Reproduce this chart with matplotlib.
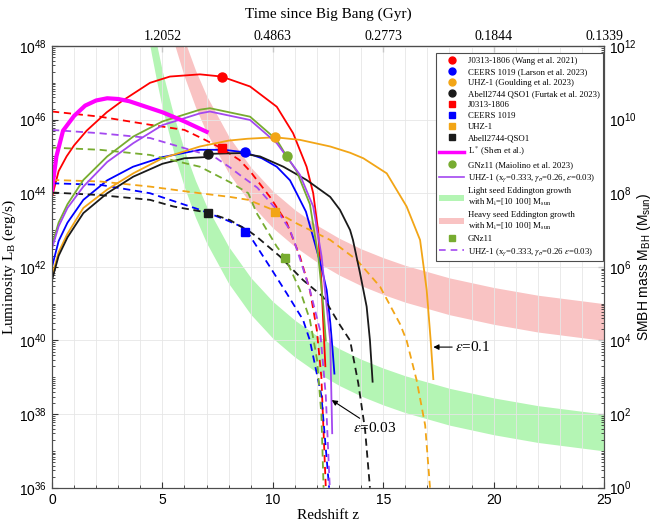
import numpy as np
import matplotlib.pyplot as plt
from matplotlib.lines import Line2D
from matplotlib.patches import Patch
from matplotlib.ticker import FixedLocator, LogLocator, NullFormatter, FuncFormatter, MultipleLocator

plt.rcParams['font.family'] = 'Liberation Serif'
plt.rcParams['mathtext.fontset'] = 'stix'

# curvas: redshift z e log10(L_B)
z_red = [0, 0.3, 0.66, 1.0, 1.57, 2.48, 3.16, 4.44, 5.34, 6.7, 7.68, 8.97, 10.18, 10.92, 11.53, 11.83, 12.05, 12.2, 12.3, 12.38]
L_red = [43.9, 44.6, 45.0, 45.3, 45.7, 46.2, 46.5, 47.0, 47.17, 47.23, 47.17, 46.9, 46.35, 45.63, 44.72, 44.0, 43.0, 41.6, 40.3, 39.3]
z_red_d = [0, 2.17, 4.44, 6.0, 6.93, 7.68, 8.5, 8.97, 9.87, 10.63, 11.23, 11.68, 11.99, 12.2, 12.4]
L_red_d = [46.22, 46.08, 45.86, 45.72, 45.45, 45.22, 44.9, 44.6, 43.9, 43.2, 42.28, 41.37, 40.3, 39.0, 36.0]

z_blue = [0, 0.3, 0.7, 1.42, 2.5, 3.67, 5.0, 6.7, 7.8, 8.74, 9.5, 10.18, 10.78, 11.08, 11.5, 11.83, 12.2, 12.44, 12.6, 12.7, 12.79]
L_blue = [42.0, 42.7, 43.2, 43.82, 44.35, 44.72, 44.98, 45.18, 45.18, 45.11, 44.95, 44.72, 44.35, 44.0, 43.5, 42.8, 42.0, 41.37, 40.5, 39.8, 39.1]
z_blue_d = [0, 2.17, 4.44, 6.7, 7.9, 8.74, 9.87, 10.63, 11.37, 11.68, 12.2, 12.55]
L_blue_d = [44.27, 44.23, 44.0, 43.55, 43.27, 43.05, 42.0, 41.28, 40.56, 40.0, 38.5, 36.0]

z_black = [0, 0.3, 0.7, 1.42, 2.5, 3.68, 5.0, 6.0, 6.9, 7.0, 7.08, 8.5, 9.42, 10.48, 11.53, 12.6, 13.04, 13.5, 13.63, 13.95, 14.25, 14.4, 14.52]
L_black = [41.64, 42.3, 42.8, 43.46, 44.0, 44.45, 44.8, 44.95, 44.98, 45.05, 45.07, 45.09, 45.0, 44.72, 44.36, 43.9, 43.55, 43.0, 42.73, 41.83, 40.92, 40.0, 38.88]
z_black_d = [0, 2.17, 4.44, 5.5, 7.08, 8.06, 8.97, 9.27, 10.33, 11.37, 12.27, 13.04, 13.5, 13.87, 14.18, 14.4]
L_black_d = [44.02, 43.95, 43.82, 43.64, 43.47, 43.27, 42.95, 42.82, 42.28, 41.64, 41.19, 40.42, 40.0, 38.84, 37.57, 36.0]

z_orange = [0, 0.3, 0.7, 1.42, 2.5, 3.68, 5.0, 6.7, 8.0, 8.85, 10.1, 11.23, 12.6, 13.5, 14.1, 15.16, 16.06, 16.67, 16.97, 17.15, 17.27]
L_orange = [41.75, 42.4, 42.9, 43.6, 44.1, 44.54, 44.95, 45.27, 45.43, 45.48, 45.52, 45.45, 45.27, 45.1, 44.95, 44.54, 43.64, 42.73, 41.37, 40.0, 38.95]
z_orange_d = [0, 2.17, 4.44, 6.7, 8.06, 8.89, 10.0, 11.08, 12.6, 13.8, 14.86, 15.76, 16.06, 16.51, 16.9, 17.12]
L_orange_d = [44.36, 44.32, 44.18, 44.0, 43.9, 43.82, 43.55, 43.18, 42.73, 42.19, 41.46, 40.45, 40.0, 38.93, 37.7, 36.0]

z_green = [0, 0.3, 0.7, 1.42, 2.5, 3.68, 5.0, 6.7, 7.15, 8.97, 10.18, 10.63, 11.08, 11.68, 12.06, 12.29, 12.4]
L_green = [42.6, 43.2, 43.7, 44.36, 45.0, 45.54, 45.95, 46.27, 46.31, 46.08, 45.45, 45.0, 44.6, 43.7, 42.28, 40.92, 40.0]
z_green_d = [0, 2.17, 4.44, 6.7, 8.06, 8.89, 9.27, 10.18, 10.55, 11.23, 11.68, 12.0, 12.2, 12.3]
L_green_d = [45.24, 45.18, 45.04, 44.72, 44.3, 44.0, 43.46, 42.55, 42.26, 41.37, 40.56, 39.5, 38.0, 36.0]

z_purple = [0, 0.3, 0.7, 1.42, 2.5, 3.68, 5.0, 6.7, 7.15, 8.97, 10.18, 11.23, 11.83, 12.21, 12.44, 12.6, 12.69]
L_purple = [42.5, 43.1, 43.6, 44.18, 44.85, 45.36, 45.85, 46.17, 46.22, 45.99, 45.36, 44.5, 43.64, 42.28, 40.92, 40.0, 37.48]
z_purple_d = [0, 2.17, 4.44, 6.7, 7.45, 8.06, 8.5, 9.3, 10.18, 10.78, 11.08, 11.68, 12.14, 12.4, 12.58]
L_purple_d = [45.72, 45.63, 45.5, 45.1, 44.95, 44.7, 44.5, 44.15, 43.55, 43.0, 42.5, 41.37, 40.28, 38.5, 36.0]

# L* (Shen et al.)
z_lstar = [0, 0.2, 0.5, 1.0, 1.5, 2.0, 2.5, 3.0, 3.5, 4.0, 5.0, 6.0, 7.0]
L_lstar = [44.1, 45.0, 45.7, 46.1, 46.38, 46.52, 46.58, 46.56, 46.5, 46.4, 46.2, 45.95, 45.67]

# objetos observados (z, log10 L)
z_circ = [7.68, 8.74, 10.1, 7.08, 10.63]
L_circ = [47.17, 45.11, 45.52, 45.07, 45.0]
z_sq = [7.68, 8.74, 10.1, 7.08, 10.55]
L_sq = [45.22, 42.94, 43.5, 43.47, 42.24]
obj_colors = ['#ff0000', '#0000ff', '#f2a516', '#1a1a1a', '#77ac30']

# crescimento Eddington: log10 do fator de crescimento em funcao de z
z_band = [4.3, 4.5, 4.75, 5.0, 5.5, 6.0, 6.5, 7.0, 8.0, 9.0, 10.0, 11.0, 12.0, 13.0, 14.0, 15.0, 16.0, 18.0, 20.0, 22.0, 25.0]
log_growth = [11.47, 10.79, 10.02, 9.31, 8.14, 7.16, 6.34, 5.65, 4.55, 3.71, 3.06, 2.55, 2.13, 1.78, 1.49, 1.25, 1.04, 0.70, 0.44, 0.23, 0.0]
seeds_light = [10, 100]
seeds_heavy = [1e4, 1e5]

# eixo superior: idade do universo
age_z = [5, 10, 15, 20, 25]
age_labels = ['1.2052', '0.4863', '0.2773', '0.1844', '0.1339']

legend_labels = [
    'J0313-1806 (Wang et al. 2021)',
    'CEERS 1019 (Larson et al. 2023)',
    'UHZ-1 (Goulding et al. 2023)',
    'Abell2744 QSO1 (Furtak et al. 2023)',
    'J0313-1806',
    'CEERS 1019',
    'UHZ-1',
    'Abell2744-QSO1',
    r'L$^*$ (Shen et al.)',
    'GNz11 (Maiolino et al. 2023)',
    r'UHZ-1 (x$_\gamma$=0.333, $\gamma_\sigma$=0.26, $\epsilon$=0.03)',
    'Light seed Eddington growth\n' + r'with M$_\mathrm{i}$=[10 100] M$_\mathrm{sun}$',
    'Heavy seed Eddington growth\n' + r'with M$_\mathrm{i}$=[10 100] M$_\mathrm{sun}$',
    'GNz11',
    r'UHZ-1 (x$_\gamma$=0.333, $\gamma_\sigma$=0.26 $\epsilon$=0.03)',
]

c_red, c_blue, c_orange, c_black, c_green = obj_colors
c_purple = '#a348f0'
c_mag = '#ff00ff'
c_light = '#b4f5b4'
c_heavy = '#f9c3c3'

fig = plt.figure(figsize=(6.53, 5.24), dpi=100)
ax = fig.add_axes([52 / 653, 1 - 487.7 / 524, 552 / 653, 441.7 / 524])
ax2 = ax.twinx()
ax.set_zorder(ax2.get_zorder() + 1)
ax.patch.set_visible(False)

# faixas de semente no eixo da massa
g = 10 ** np.array(log_growth)
ax2.fill_between(z_band, seeds_light[0] * g, seeds_light[1] * g, color=c_light, lw=0)
ax2.fill_between(z_band, seeds_heavy[0] * g, seeds_heavy[1] * g, color=c_heavy, lw=0)
ax2.set_yscale('log')
ax2.set_ylim(1, 1e12)

dash = (4, 2.6)
lw = 1.3
curves = [
    (z_red, L_red, z_red_d, L_red_d, c_red),
    (z_blue, L_blue, z_blue_d, L_blue_d, c_blue),
    (z_orange, L_orange, z_orange_d, L_orange_d, c_orange),
    (z_black, L_black, z_black_d, L_black_d, c_black),
    (z_green, L_green, z_green_d, L_green_d, c_green),
    (z_purple, L_purple, z_purple_d, L_purple_d, c_purple),
]
for zs, Ls, zd, Ld, c in curves:
    ax.plot(zs, 10 ** np.array(Ls), color=c, lw=lw)
    ax.plot(zd, 10 ** np.array(Ld), color=c, lw=lw, ls=(0, dash))

ax.plot(z_lstar, 10 ** np.array(L_lstar), color=c_mag, lw=3)

for i in range(5):
    ax.plot(z_circ[i], 10 ** L_circ[i], 'o', color=obj_colors[i], ms=6.5, zorder=5)
    ax.plot(z_sq[i], 10 ** L_sq[i], 's', color=obj_colors[i], ms=5.5, zorder=5)

ax.set_yscale('log')
ax.set_xlim(0, 25)
ax.set_ylim(1e36, 1e48)

# setas de eficiencia
ax.annotate(r'$\epsilon$=0.1', xy=(17.27, 10 ** 39.82), xytext=(18.25, 10 ** 39.82),
            fontsize=11, va='center', ha='left',
            arrowprops=dict(arrowstyle='-|>', color='k', lw=0.8, mutation_scale=8, shrinkA=0, shrinkB=0))
ax.annotate(r'$\epsilon$=0.03', xy=(12.67, 10 ** 38.38), xytext=(13.63, 10 ** 37.62),
            fontsize=11, va='center', ha='left',
            arrowprops=dict(arrowstyle='-|>', color='k', lw=0.8, mutation_scale=8, shrinkA=0, shrinkB=0))

# ticks e grade
sans = 'Liberation Sans'
pow_fmt = FuncFormatter(lambda v, p: r'$\mathregular{10^{%d}}$' % round(np.log10(v)))
ax.yaxis.set_major_locator(FixedLocator([10.0 ** k for k in range(36, 49, 2)]))
ax.yaxis.set_minor_locator(LogLocator(base=10, subs=np.arange(1, 10), numticks=50))
ax.yaxis.set_major_formatter(pow_fmt)
ax.yaxis.set_minor_formatter(NullFormatter())
ax.xaxis.set_major_locator(FixedLocator([0, 5, 10, 15, 20, 25]))
ax.xaxis.set_minor_locator(MultipleLocator(1))
ax.tick_params(which='both', direction='in', top=False, right=False, labelsize=10, colors='0.2')
ax.tick_params(axis='x', which='minor', length=0)
ax.tick_params(which='major', length=4)
ax.tick_params(which='minor', length=2)
for t in ax.get_xticklabels() + ax.get_yticklabels():
    t.set_fontfamily(sans)
    t.set_color('k')
ax.grid(True, axis='x', which='both', color='0.9', lw=0.6)
ax.grid(True, axis='y', which='major', color='0.9', lw=0.6)

ax2.yaxis.set_major_locator(FixedLocator([10.0 ** k for k in range(0, 13, 2)]))
ax2.yaxis.set_minor_locator(LogLocator(base=10, subs=np.arange(1, 10), numticks=50))
ax2.yaxis.set_major_formatter(pow_fmt)
ax2.yaxis.set_minor_formatter(NullFormatter())
ax2.tick_params(which='both', direction='in', labelsize=10, colors='0.2')
ax2.tick_params(which='major', length=4)
ax2.tick_params(which='minor', length=2)
for t in ax2.get_yticklabels():
    t.set_fontfamily(sans)
    t.set_color('k')
ax2.set_ylabel(r'SMBH mass M$\mathregular{_{BH}}$ (M$\mathregular{_{sun}}$)', fontsize=10, family=sans)
ax2.yaxis.set_label_coords(1.056, 0.5)

sec = ax.secondary_xaxis('top')
sec.set_xticks(age_z, labels=age_labels)
sec.tick_params(direction='in', length=4, labelsize=10, pad=2, colors='0.2')
for t in sec.get_xticklabels():
    t.set_color('k')
sec.set_xlabel('Time since Big Bang (Gyr)', fontsize=11, labelpad=9)

ax.set_xlabel('Redshift z', fontsize=11, labelpad=2)
ax.set_ylabel(r'Luminosity L$\mathregular{_B}$ (erg/s)', fontsize=11)
ax.yaxis.set_label_coords(-0.061, 0.5)
for sp in list(ax.spines.values()) + list(ax2.spines.values()):
    sp.set_color('0.3')

# legenda
handles = []
for c in obj_colors[:4]:
    handles.append(Line2D([], [], ls='none', marker='o', color=c, ms=5))
for c in obj_colors[:4]:
    handles.append(Line2D([], [], ls='none', marker='s', color=c, ms=4.5))
handles.append(Line2D([], [], color=c_mag, lw=2.5))
handles.append(Line2D([], [], ls='none', marker='o', color=c_green, ms=5))
handles.append(Line2D([], [], color=c_purple, lw=1.2))
handles.append(Patch(facecolor=c_light, edgecolor='none'))
handles.append(Patch(facecolor=c_heavy, edgecolor='none'))
handles.append(Line2D([], [], ls='none', marker='s', color=c_green, ms=4.5))
handles.append(Line2D([], [], color=c_purple, lw=1.2, ls=(0, (4, 3))))
leg = ax.legend(handles, legend_labels, loc='upper right', bbox_to_anchor=(0.998, 0.984),
                borderaxespad=0, fontsize=6.3, labelspacing=0.34, handlelength=2.9,
                handletextpad=0.35, borderpad=0.4, fancybox=False, framealpha=1, edgecolor='0.3')
leg.get_frame().set_linewidth(0.8)

fig.savefig('out.png', dpi=100)
